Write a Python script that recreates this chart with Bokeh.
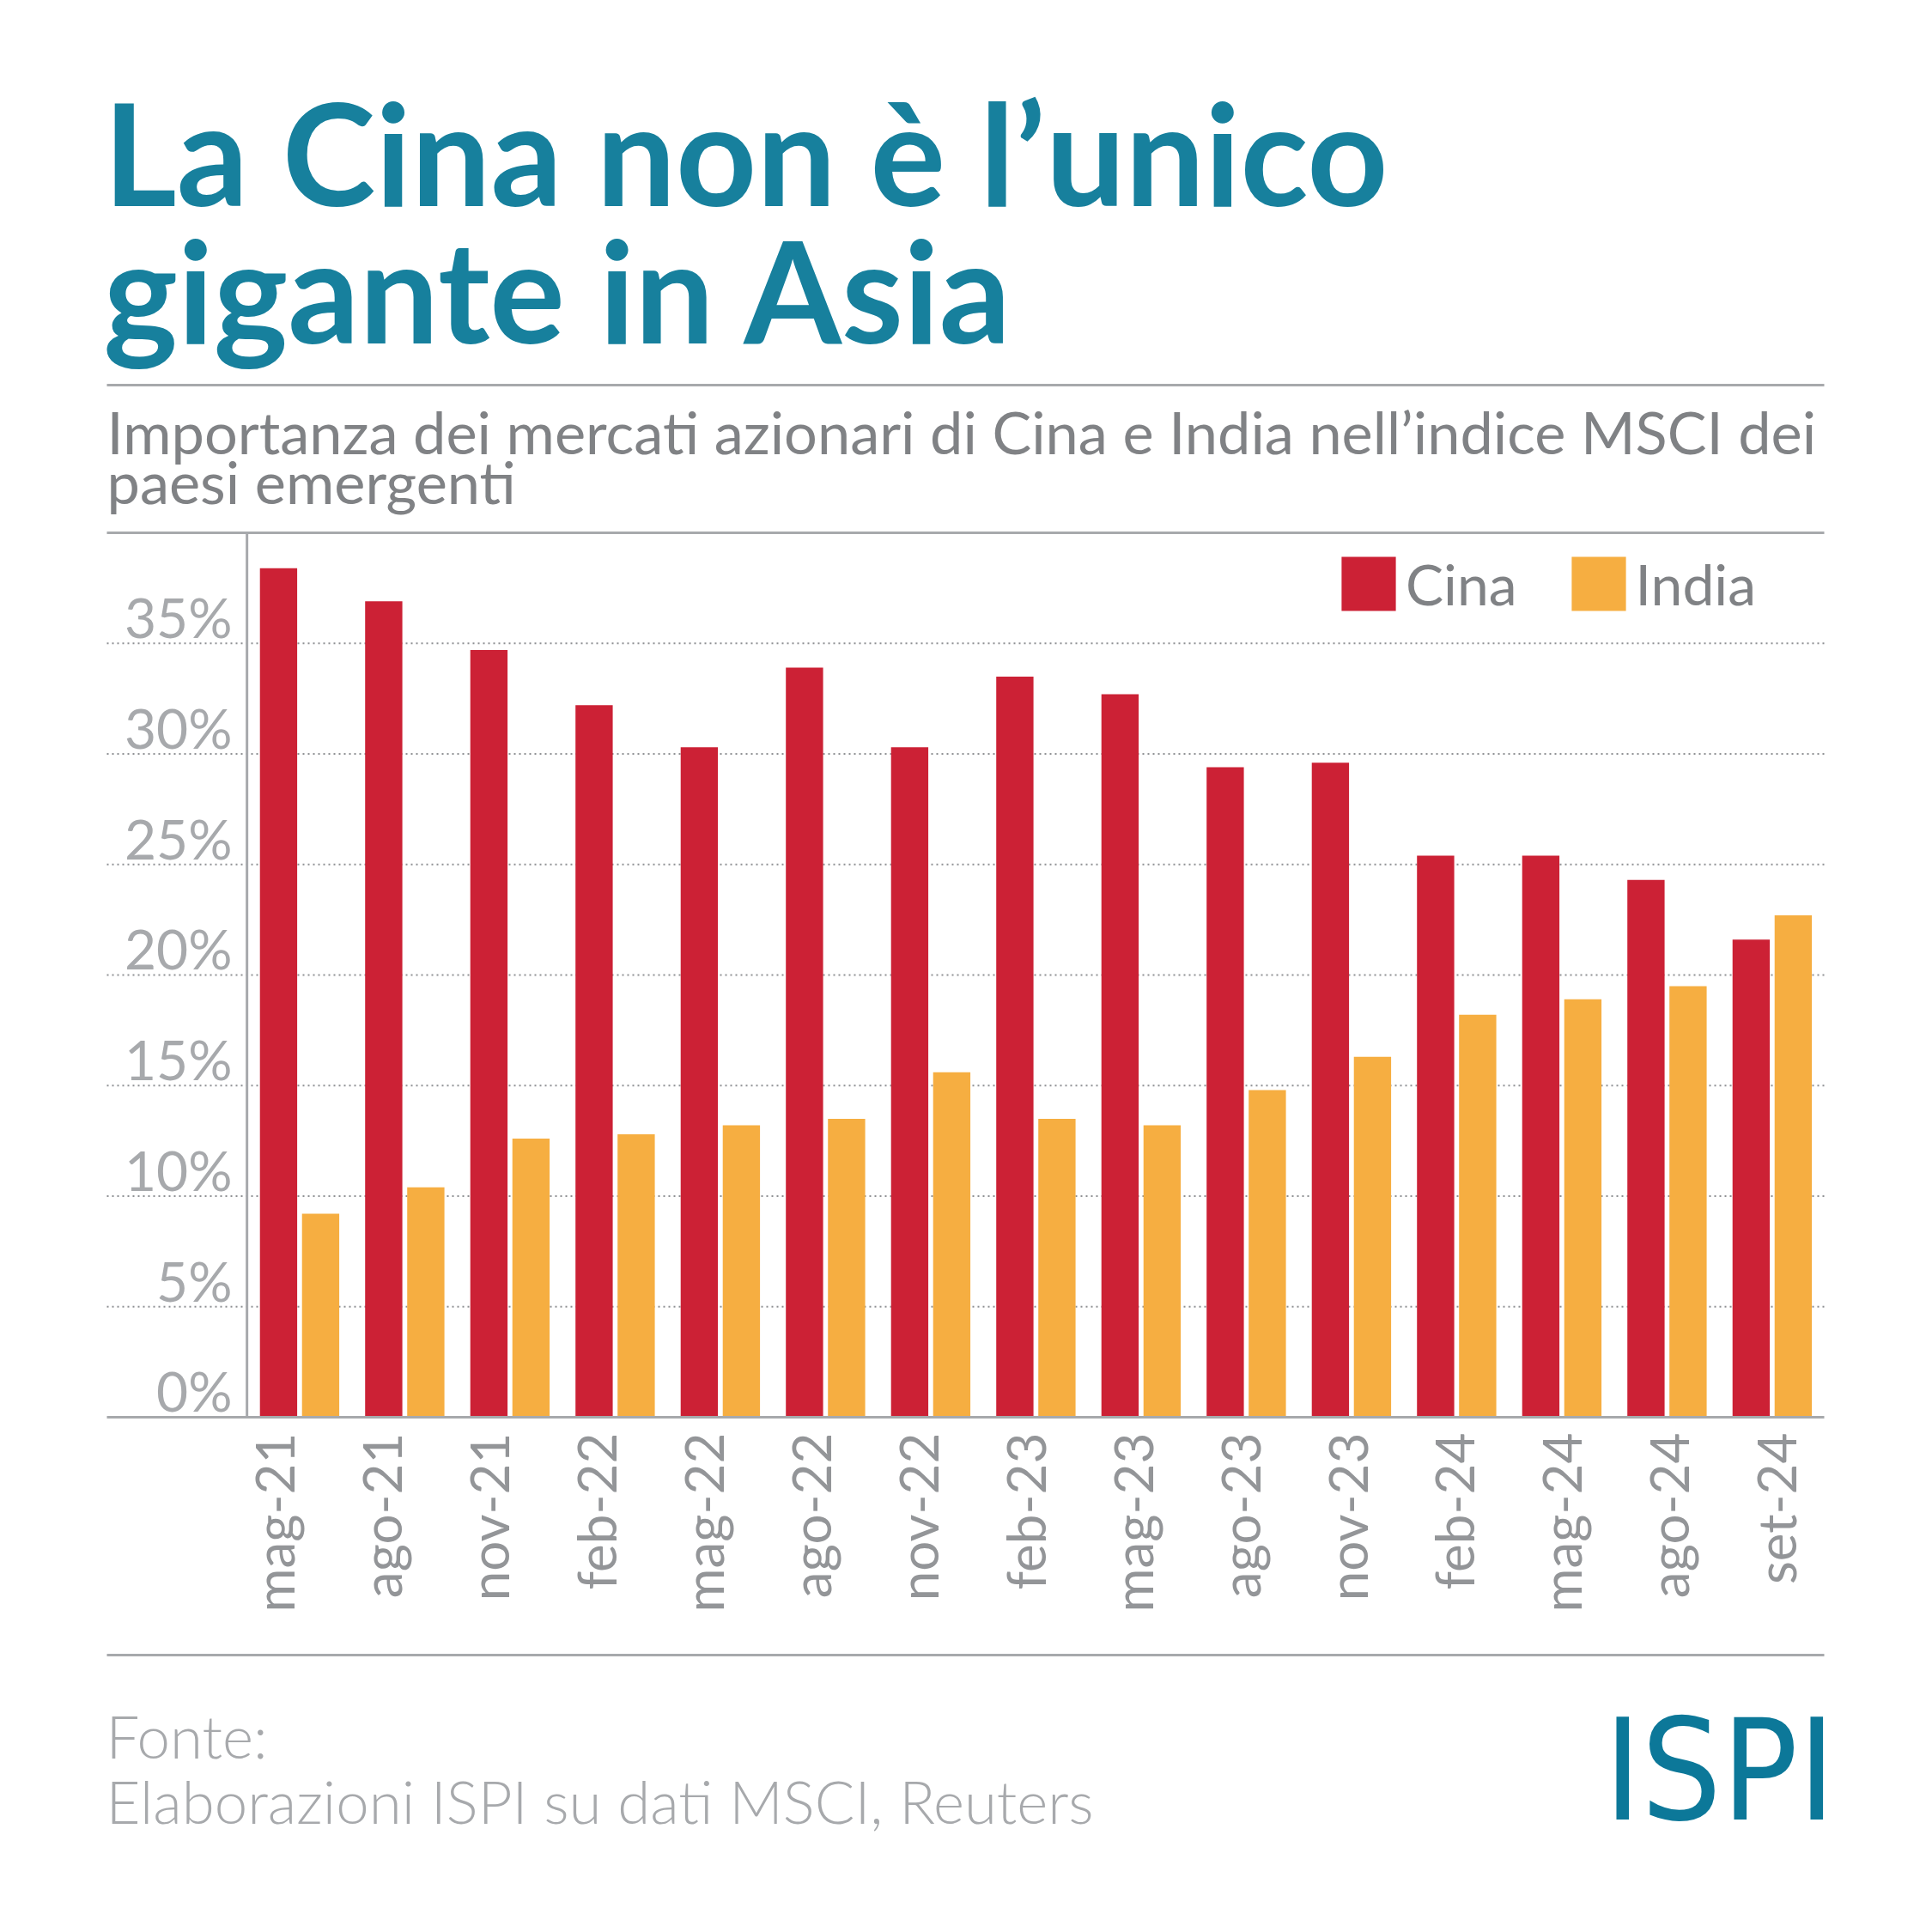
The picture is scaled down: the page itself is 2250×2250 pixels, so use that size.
import math
from bokeh.plotting import figure
from bokeh.models import Range1d, Legend, LegendItem, ColumnDataSource
from bokeh.embed import file_html
from bokeh.resources import INLINE
from bokeh.core.properties import value

# ---------------- data ----------------
categories = ["mag-21", "ago-21", "nov-21", "feb-22", "mag-22", "ago-22", "nov-22",
              "feb-23", "mag-23", "ago-23", "nov-23", "feb-24", "mag-24", "ago-24", "set-24"]
cina = [38.4, 36.9, 34.7, 32.2, 30.3, 33.9, 30.3, 33.5, 32.7, 29.4, 29.6, 25.4, 25.4, 24.3, 21.6]
india = [9.2, 10.4, 12.6, 12.8, 13.2, 13.5, 15.6, 13.5, 13.2, 14.8, 16.3, 18.2, 18.9, 19.5, 22.7]
series_names = ["Cina", "India"]
y_ticks = [0, 5, 10, 15, 20, 25, 30, 35]
y_tick_labels = ["0%", "5%", "10%", "15%", "20%", "25%", "30%", "35%"]
y_max = 40
title_lines = ["La Cina non è l’unico", "gigante in Asia"]
subtitle_lines = ["Importanza dei mercati azionari di Cina e India nell’indice MSCI dei",
                  "paesi emergenti"]
source_lines = ["Fonte:", "Elaborazioni ISPI su dati MSCI, Reuters"]
logo_text = "ISPI"

# ---------------- layout / style ----------------
W = H = 2234
CL, CR, CT, CB = 124, 2124, 620, 1650      # chart area in page pixels
unit = 122.5                               # px per category
first_center = 348.4                       # px of first group centre
px_per_pct = (CB - CT) / y_max
BASE = 0.37                                # baseline correction (fraction of font size)

TEAL = "#17809d"
LOGO = "#0c7899"
RED = "#cc2135"
ORANGE = "#f6ae41"
RULE = "#a7a9ac"
GRID = "#8f9194"
GRAY_SUB = "#808285"
GRAY_LIGHT = "#a7a9ac"
GRAY_X = "#939598"

xr = Range1d(-first_center / unit, (W - first_center) / unit)
yr = Range1d(-(H - CB) / px_per_pct, CB / px_per_pct)
x_left = (CL - first_center) / unit
x_right = (CR - first_center) / unit

p = figure(width=W, height=H, x_range=xr, y_range=yr, title=None,
           x_axis_location=None, y_axis_location=None, toolbar_location=None,
           output_backend="svg", min_border=0, outline_line_color=None)
p.grid.visible = False
p.extra_x_ranges = {"px": Range1d(0, W)}
p.extra_y_ranges = {"px": Range1d(H, 0)}

# dotted grid lines
p.segment(x0=[x_left] * (len(y_ticks) - 1), x1=[x_right] * (len(y_ticks) - 1),
          y0=y_ticks[1:], y1=y_ticks[1:], line_color=GRID, line_dash="2 4", line_width=2)

n = len(categories)
xs = list(range(n))
src = ColumnDataSource(dict(xc=[i - 0.2 for i in xs], xi=[i + 0.2 for i in xs],
                            cina=cina, india=india))
r1 = p.vbar(x="xc", top="cina", width=0.354, source=src, fill_color=RED, line_color=None)
r2 = p.vbar(x="xi", top="india", width=0.354, source=src, fill_color=ORANGE, line_color=None)

# axis lines
p.segment(x0=[x_left, x_left], x1=[x_right, x_right], y0=[0, y_max], y1=[0, y_max],
          line_color=RULE, line_width=3)
p.segment(x0=[-0.5], x1=[-0.5], y0=[0], y1=[y_max], line_color=RULE, line_width=3)

# y tick labels
ysz = 64
p.text(x=[-0.64] * len(y_ticks), y=[t + (7 + BASE * ysz) / px_per_pct for t in y_ticks],
       text=y_tick_labels, text_align="right", text_baseline="alphabetic",
       text_line_height=1.0, text_font=value("Lato"), text_font_size=f"{ysz}px",
       text_color=GRAY_LIGHT)

# x category labels (vertical)
label_step = 1.02
p.text(x=[i * label_step - 0.244 for i in xs], y=[-18 / px_per_pct] * n, text=categories,
       angle=math.pi / 2, text_align="right", text_baseline="middle", text_line_height=1.0,
       text_font=value("Lato"), text_font_size="62px", text_color=GRAY_X)

legend = Legend(items=[LegendItem(label=series_names[0], renderers=[r1]),
                       LegendItem(label=series_names[1], renderers=[r2])],
                orientation="horizontal", location=(1554, 1515),
                glyph_width=79, glyph_height=79, label_standoff=4, spacing=55,
                padding=0, margin=0, border_line_color=None, background_fill_alpha=0,
                label_text_font="Lato", label_text_font_size="66px",
                label_text_color=GRAY_SUB)
p.add_layout(legend)

# ---------------- header and footer (page pixels) ----------------
PX = dict(x_range_name="px", y_range_name="px")


def put(lines, x, baselines, size, **kw):
    p.text(x=[x] * len(lines), y=[b - BASE * size for b in baselines], text=lines,
           text_font_size=f"{size}px", text_baseline="alphabetic", text_line_height=1.0,
           **kw, **PX)


put(title_lines, 120, [237, 397], 164, text_font=value("Lato"), text_font_style="bold",
    text_color=TEAL)
p.segment(x0=[CL, CL], x1=[CR, CR], y0=[448, 1927], y1=[448, 1927],
          line_color=RULE, line_width=3, **PX)
put(subtitle_lines, 124, [527, 585], 68.5, text_font=value("Lato"), text_color=GRAY_SUB)
put(source_lines, 123, [2047, 2123], 69, text_font=value("Lato Light"),
    text_color=GRAY_LIGHT)
put([logo_text], 2137, [2123], 164, text_align="right",
    text_font=value("Liberation Sans Narrow, DejaVu Sans Condensed, Roboto"),
    text_color=LOGO)

open("out.html", "w").write(file_html(p, INLINE))
